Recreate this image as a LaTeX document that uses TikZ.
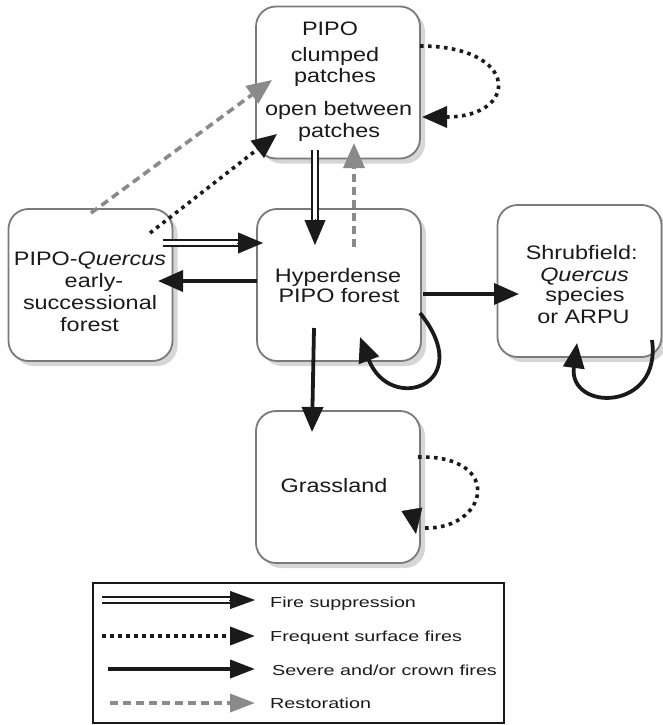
\documentclass[tikz,border=0pt]{standalone}
\usepackage{fontspec}
\newfontfamily\nf{Liberation Sans}[FakeStretch=1.2]
\newfontfamily\lf{Liberation Sans}[FakeStretch=1.36]
\usetikzlibrary{arrows.meta,shadows,calc}
\definecolor{boxgray}{HTML}{7A7A7A}
\definecolor{shgray}{HTML}{D6D6D6}
\definecolor{restgray}{HTML}{8A8A8A}
\definecolor{inkc}{HTML}{1A1A1A}
\begin{document}
\begin{tikzpicture}[x=1pt,y=-1pt,
  box/.style={draw=boxgray,line width=1.8pt,rounded corners=20pt,fill=white,
    minimum width=164pt,minimum height=152pt,inner sep=0pt,outer sep=0pt,
    drop shadow={shadow xshift=5pt,shadow yshift=-5pt,fill=shgray,opacity=1}},
  txt/.style={font=\nf\fontsize{19.5}{21}\selectfont,inner sep=0pt,anchor=base,text=inkc},
  ltxt/.style={font=\lf\fontsize{14.5}{16}\selectfont,inner sep=0pt,anchor=base west,text=inkc},
  BigT/.tip={Triangle[length=25pt,width=21pt]},
  LegT/.tip={Triangle[length=25pt,width=18pt]},
  severe/.style={draw=inkc,line width=3.8pt},
  surf/.style={draw=inkc,line width=3.6pt,dash pattern=on 3.6pt off 4.4pt},
  rest/.style={draw=restgray,line width=3.6pt,dash pattern=on 8pt off 5pt},
  dblshaft/.style={draw=inkc,double=white,double distance=3.6pt,line width=2.6pt},
  thintip/.style={draw=inkc,line width=0.4pt},
]
\useasboundingbox (0,0) rectangle (662,725);

% boxes
\node[box] (top) at (338,82.5) {};
\node[box] (left) at (90.5,285) {};
\node[box] (center) at (339,285) {};
\node[box] (right) at (579.5,281) {};
\node[box] (grass) at (338,487) {};

% texts
\node[txt] (t1) at (330,36) {PIPO};
\node[txt] (t2) at (335,61) {clumped};
\node[txt] (t3) at (335,82) {patches};
\node[txt] (t4) at (338.7,115) {open between};
\node[txt] (t5) at (339,137) {patches};
\node[txt] (c1) at (338,282) {Hyperdense};
\node[txt] (c2) at (339,302) {PIPO forest};
\node[txt] (l1) at (90,265) {PIPO-\textit{Quercus}};
\node[txt] (l2) at (94,287) {early-};
\node[txt] (l3) at (90,309) {successional};
\node[txt] (l4) at (89.5,331) {forest};
\node[txt] (r1) at (581.7,259) {Shrubfield:};
\node[txt] (r2) at (584.5,281) {\textit{Quercus}};
\node[txt] (r3) at (585,301) {species};
\node[txt] (r4) at (583.5,323) {or ARPU};
\node[txt] (g1) at (334,492) {Grassland};

% connector end points
\coordinate (a1s) at (315,150);  \coordinate (a1e) at (315,245);
\coordinate (a2s) at (354,247);  \coordinate (a2e) at (354,143);
\coordinate (a3s) at (91,213);   \coordinate (a3e) at (272,80);
\coordinate (a4s) at (150,233);  \coordinate (a4e) at (277,134);
\coordinate (a5s) at (163,243);  \coordinate (a5e) at (263,243);
\coordinate (a6s) at (257,281);  \coordinate (a6e) at (158,281);
\coordinate (a7s) at (423,294);  \coordinate (a7e) at (519,294);
\coordinate (a8s) at (420,46);   \coordinate (a8e) at (422,117);
\coordinate (a9s) at (420,313);  \coordinate (a9e) at (360,337);
\coordinate (a10s) at (652,340); \coordinate (a10e) at (577,343);
\coordinate (a11s) at (314,328); \coordinate (a11e) at (312,432);
\coordinate (a12s) at (418,457); \coordinate (a12m) at (424,528);
\coordinate (a12b) at (412,510); \coordinate (a12e) at (416,534);

% fire suppression (double)
\draw[dblshaft] (a1s) -- ($(a1e)!24pt!(a1s)$);
\draw[thintip,-BigT] ($(a1e)!26pt!(a1s)$) -- (a1e);
\draw[dblshaft] (a5s) -- ($(a5e)!24pt!(a5s)$);
\draw[thintip,-BigT] ($(a5e)!26pt!(a5s)$) -- (a5e);

% restoration
\draw[rest,-BigT] (a2s) -- (a2e);
\draw[rest,-BigT] (a3s) -- (a3e);

% frequent surface fires
\draw[surf,-BigT] (a4s) -- (a4e);
\draw[surf,-BigT] (a8s) .. controls (520,46) and (520,117) .. (a8e);
\draw[surf] (a12s) .. controls (505,455) and (488,530) .. (a12m);
\draw[thintip,-BigT] (a12b) -- (a12e);

% severe fires
\draw[severe,-BigT] (a6s) -- (a6e);
\draw[severe,-BigT] (a7s) -- (a7e);
\draw[severe,-BigT] (a9s) .. controls (478,385) and (390,415) .. (a9e);
\draw[severe,-BigT] (a10s) .. controls (662,412) and (568,412) .. (a10e);
\draw[severe,-BigT] (a11s) -- (a11e);

% legend
\node[draw=inkc,line width=1.1pt,minimum width=411pt,minimum height=140pt,inner sep=0pt] (legend) at (298.5,653) {};
\coordinate (k1s) at (102,600); \coordinate (k1e) at (255,600);
\coordinate (k2s) at (102,636); \coordinate (k2e) at (255,636);
\coordinate (k3s) at (108,669); \coordinate (k3e) at (255,669);
\coordinate (k4s) at (110,703); \coordinate (k4e) at (255,703);
\draw[dblshaft] (k1s) -- ($(k1e)!24pt!(k1s)$);
\draw[thintip,-LegT] ($(k1e)!26pt!(k1s)$) -- (k1e);
\draw[surf,-LegT] (k2s) -- (k2e);
\draw[severe,-LegT] (k3s) -- (k3e);
\draw[rest,-LegT] (k4s) -- (k4e);
\node[ltxt] (lt1) at (270,607) {Fire suppression};
\node[ltxt] (lt2) at (270,641) {Frequent surface fires};
\node[ltxt] (lt3) at (272,675) {Severe and/or crown fires};
\node[ltxt] (lt4) at (270,708) {Restoration};
\end{tikzpicture}
\end{document}
